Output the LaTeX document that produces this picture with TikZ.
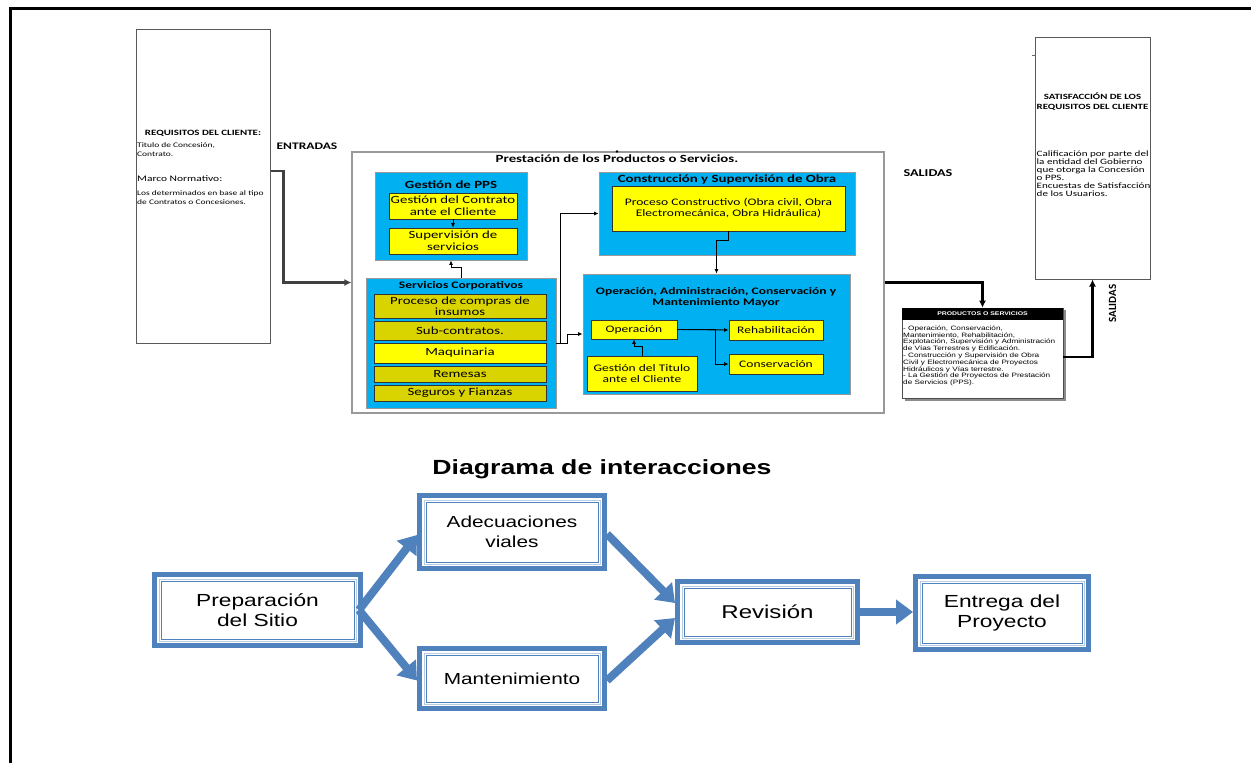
\documentclass[tikz,border=0pt]{standalone}
\usepackage{fontspec}
\setmainfont{Carlito}[FakeStretch=1.35]
\newfontfamily\plainf{Carlito}
\newfontfamily\arial{Liberation Sans}[FakeStretch=1.3]
\usetikzlibrary{arrows.meta,fit,calc}
\definecolor{cblue}{HTML}{00B0F0}
\definecolor{yel}{HTML}{FFFF00}
\definecolor{olv}{HTML}{D9D300}
\definecolor{ib}{HTML}{4F81BD}
\definecolor{ibl}{HTML}{B8CCE4}
\tikzset{
  blu/.style={draw=black!40, line width=0.8pt, fill=cblue, inner sep=0pt},
  ybox/.style={draw=black!80, line width=0.7pt, fill=yel, inner sep=0pt},
  obox/.style={ybox, fill=olv},
  txt/.style={align=center, inner sep=0pt, font=\fontsize{10}{11.5}\selectfont},
  ttl/.style={font=\bfseries\fontsize{10}{11}\selectfont, align=center, inner sep=0pt},
  wbox/.style={draw=black!65, line width=1pt, fill=white, inner sep=0pt},
  thin/.style={line width=0.9pt, -{Latex[length=4.5pt,width=4pt]}},
  fat/.style={line width=2.6pt, -{Latex[length=7pt,width=7pt]}},
  ibox/.style={draw=ib, line width=5pt, fill=white, inner sep=0pt,
    path picture={
      \draw[ibl, line width=1pt] ([shift={(4.5pt,4.5pt)}]path picture bounding box.south west) rectangle ([shift={(-4.5pt,-4.5pt)}]path picture bounding box.north east);
      \draw[ib, line width=1pt] ([shift={(6.5pt,6.5pt)}]path picture bounding box.south west) rectangle ([shift={(-6.5pt,-6.5pt)}]path picture bounding box.north east);
    }},
  itxt/.style={align=center, inner sep=0pt, font=\arial\fontsize{17.5}{20.5}\selectfont},
  barrow/.style={draw=ib, line width=8pt, -{Triangle[width=24pt,length=17pt]}},
}
\begin{document}
\begin{tikzpicture}[x=1pt,y=-1pt]
\useasboundingbox (0,0) rectangle (1251,763);
\fill[white] (0,0) rectangle (1251,763);
% page frame
\draw[line width=3pt] (9,8.5) -- (1251,8.5);
\draw[line width=3pt] (10.5,7) -- (10.5,763);

% ---------- left requirements box
\node[wbox, fit={(136,29) (270,343)}] (req) {};
\node[font=\bfseries\fontsize{8.1}{8}\selectfont, inner sep=0pt] (reqt) at (203,133) {REQUISITOS DEL CLIENTE:};
\node[font=\fontsize{7}{9}\selectfont, align=left, anchor=north west, inner sep=0pt] (reqa) at (137,142) {Titulo de Concesión,\\Contrato.};
\node[font=\fontsize{8.5}{9}\selectfont, anchor=north west, inner sep=0pt] (reqb) at (137,175) {Marco Normativo:};
\node[font=\fontsize{7}{9}\selectfont, align=left, anchor=north west, inner sep=0pt] (reqc) at (137,190) {Los determinados en base al tipo\\de Contratos o Concesiones.};
\node[font=\bfseries\fontsize{10}{10}\selectfont, inner sep=0pt] (ent) at (307,146) {ENTRADAS};

% ---------- main box
\node[draw=black!40, line width=1.2pt, fill=white, inner sep=0pt, fit={(352,152) (884,413)}] (big) {};
\fill (617,151.5) circle (1.3pt);
\node[ttl, font=\bfseries\fontsize{11}{11}\selectfont] (bigt) at (617,158.5) {Prestación de los Productos o Servicios.};

% Gestion de PPS
\node[blu, fit={(375,172) (527,260)}] (pps) {};
\node[ttl, font=\bfseries\fontsize{11}{12}\selectfont] (ppst) at (451,185) {Gestión de PPS};
\node[ybox, fit={(389,193) (517,219)}] (contr) {};
\node[txt, font=\fontsize{11}{12}\selectfont] (contrt) at (contr) {Gestión del Contrato\\ante el Cliente};
\node[ybox, fit={(389,228) (517,254)}] (sup) {};
\node[txt, font=\fontsize{11}{12}\selectfont] (supt) at (sup) {Supervisión de\\servicios};

% Servicios corporativos
\node[blu, fit={(366,278) (556,408)}] (serv) {};
\node[ttl, font=\bfseries\fontsize{10}{10}\selectfont] (servt) at (461,285.5) {Servicios Corporativos};
\node[obox, fit={(374,294) (546,318)}] (comp) {};
\node[txt, font=\fontsize{11}{11.5}\selectfont] (compt) at (comp) {Proceso de compras de\\insumos};
\node[obox, fit={(374,321) (546,340)}] (subc) {};
\node[txt, font=\fontsize{11}{11.5}\selectfont] (subct) at (subc) {Sub-contratos.};
\node[ybox, fit={(374,343) (546,363)}] (maq) {};
\node[txt, font=\fontsize{11}{11.5}\selectfont] (maqt) at (maq) {Maquinaria};
\node[obox, fit={(374,366) (546,382)}] (rem) {};
\node[txt, font=\fontsize{11}{11.5}\selectfont] (remt) at (rem) {Remesas};
\node[obox, fit={(374,385) (546,401)}] (seg) {};
\node[txt, font=\fontsize{11}{11.5}\selectfont] (segt) at (seg) {Seguros y Fianzas};

% Construccion
\node[blu, fit={(599,172) (855,255)}] (cons) {};
\node[ttl, font=\bfseries\fontsize{11}{12}\selectfont] (const) at (727,179.5) {Construcción y Supervisión de Obra};
\node[ybox, fit={(612,186) (845,231)}] (proc) {};
\node[txt, font=\fontsize{10}{11}\selectfont] (proct) at (proc) {Proceso Constructivo (Obra civil, Obra\\Electromecánica, Obra Hidráulica)};

% Operacion
\node[blu, fit={(583,274) (850,394)}] (oper) {};
\node[ttl, font=\bfseries\fontsize{10}{11.5}\selectfont] (opert) at (716,297.5) {Operación, Administración, Conservación y\\Mantenimiento Mayor};
\node[ybox, fit={(591,320) (677,339)}] (opy) {};
\node[txt] (opyt) at (opy) {Operación};
\node[ybox, fit={(729,320) (823,340)}] (rehab) {};
\node[txt] (rehabt) at (rehab) {Rehabilitación};
\node[ybox, fit={(729,354) (823,374)}] (consv) {};
\node[txt] (consvt) at (consv) {Conservación};
\node[ybox, fit={(587,356) (697,391)}] (gtit) {};
\node[txt] (gtitt) at (gtit) {Gestión del Titulo\\ante el Cliente};

% inner connectors
\draw[thin] (contr.south) -- (sup.north);
\draw[thin] (serv.north) -- ++(0,-10) -| (pps.south);
\draw[thin] (serv.east) -- ++(4,0) |- (cons.west);
\draw[thin] (serv.east) -- ++(11,0) |- (oper.west);
\draw[thin] (proc.south) -- ++(0,9) -| (oper.north);
\draw[thin] (opy.east) -- (rehab.west);
\draw[thin] (opy.east) -- ++(38,0) |- (consv.west);
\draw[thin] (gtit.north) -- ++(0,-9) -| (opy.south);

% entrada arrow
\draw[fat, draw=black!75] ([yshift=15pt]req.east) -- ++(13,0) |- (big.west);

% ---------- outputs
\node[font=\bfseries\fontsize{10.5}{10}\selectfont, inner sep=0pt] (sal) at (928,173) {SALIDAS};
\draw[black!45, line width=1.6pt] (905,400) -- (1065,400) -- (1065,310);
\node[draw=black!70, line width=0.6pt, fill=white, inner sep=0pt, fit={(902,308) (1063,398)}] (prod) {};
\fill[black] (902,308) rectangle (1063,320);
\node[text=white, font=\arial\bfseries\fontsize{5.3}{5}\selectfont, inner sep=0pt] (prodt) at (982.5,314) {PRODUCTOS O SERVICIOS};
\node[font=\arial\fontsize{6.3}{6.8}\selectfont, align=left, anchor=north west, inner sep=0pt] (prodb) at (903,325.5) {- Operación, Conservación,\\Mantenimiento, Rehabilitación,\\Explotación, Supervisión y Administración\\de Vías Terrestres y Edificación.\\- Construcción y Supervisión de Obra\\Civil y Electromecánica de Proyectos\\Hidráulicos y Vías terrestre.\\- La Gestión de Proyectos de Prestación\\de Servicios (PPS).};

\node[wbox, fit={(1035,37) (1150,279)}] (sat) {};
\draw[black!60, line width=0.8pt] (1032,55) -- (1036,55);
\node[font=\bfseries\fontsize{8}{10}\selectfont, align=center, inner sep=0pt] (satt) at (1092.5,102) {SATISFACCIÓN DE LOS\\REQUISITOS DEL CLIENTE};
\node[font=\fontsize{8.2}{8}\selectfont, align=left, anchor=north west, inner sep=0pt] (satb) at (1036.5,151) {Calificación por parte del\\la entidad del Gobierno\\que otorga la Concesión\\o PPS.\\Encuestas de Satisfacción\\de los Usuarios.};
\node[font=\plainf\bfseries\fontsize{11}{11}\selectfont, inner sep=0pt, rotate=90] (sal2) at (1112.5,303.5) {SALIDAS};

\draw[fat, draw=black] (big.east) -| (prod.north);
\draw[fat, draw=black] ([yshift=-4pt]prod.east) -| (sat.south);

% ---------- interaction diagram
\node[font=\arial\bfseries\fontsize{20.5}{22}\selectfont, inner sep=0pt] (dtitle) at (602,469) {Diagrama de interacciones};
\node[ibox, fit={(154.5,574.5) (360.5,645.5)}] (prep) {};
\node[itxt] (prept) at (prep) {Preparación\\del Sitio};
\node[ibox, fit={(419.5,495.5) (604.5,568.5)}] (adec) {};
\node[itxt, font=\arial\fontsize{16}{19.5}\selectfont] (adect) at (adec) {Adecuaciones\\viales};
\node[ibox, fit={(419.5,648.5) (604.5,708.5)}] (mant) {};
\node[itxt, font=\arial\fontsize{16}{19.5}\selectfont] (mantt) at (mant) {Mantenimiento};
\node[ibox, fit={(677.5,581.5) (857.5,642.5)}] (rev) {};
\node[itxt, font=\arial\fontsize{18.5}{20}\selectfont] (revt) at (rev) {Revisión};
\node[ibox, fit={(915.5,576.5) (1088.5,649.5)}] (entr) {};
\node[itxt] (entrt) at (entr) {Entrega del\\Proyecto};

\draw[barrow] ([xshift=-4pt]prep.east) -- ([yshift=-3pt]adec.west);
\draw[barrow] ([xshift=-4pt]prep.east) -- ([yshift=-2pt]mant.west);
\draw[barrow] ([yshift=-2pt]adec.east) -- ([yshift=9pt]rev.west);
\draw[barrow] ([yshift=-2pt]mant.east) -- ([yshift=-6pt]rev.west);
\draw[barrow] (rev.east) -- (entr.west |- rev.east);
\end{tikzpicture}
\end{document}
